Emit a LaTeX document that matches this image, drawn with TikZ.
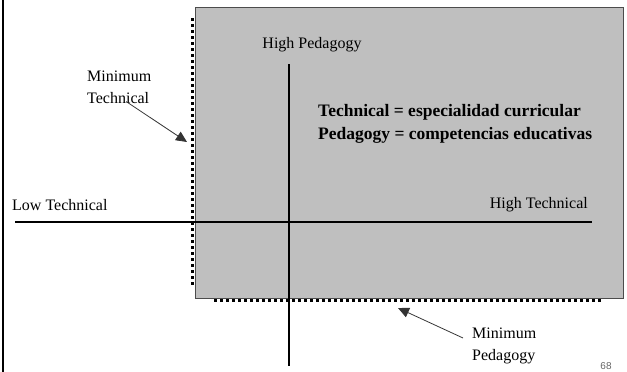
\documentclass[tikz,border=0pt]{standalone}
\usepackage{fontspec}
\setmainfont{Liberation Serif}
\setsansfont{Liberation Sans}
\usetikzlibrary{arrows.meta,positioning}

\tikzset{
	axis/.style={line width=2.6pt},
	minline/.style={line width=3pt,dash pattern=on 3pt off 3pt},
	lbl/.style={font=\fontsize{16}{22}\selectfont,inner sep=0pt},
	keytext/.style={font=\bfseries\fontsize{17.5}{23}\selectfont,inner sep=0pt,align=left},
	pointer/.style={line width=0.8pt,draw=black!80,-{Triangle[length=11pt,width=10pt]}}
}

\begin{document}
\begin{tikzpicture}[x=1pt,y=-1pt]
\useasboundingbox (0,0) rectangle (627,372);

\pgfmathsetmacro{\boxL}{195}
\pgfmathsetmacro{\boxR}{623}
\pgfmathsetmacro{\boxT}{7}
\pgfmathsetmacro{\boxB}{298}
\pgfmathsetmacro{\axX}{289}
\pgfmathsetmacro{\axY}{222}

\draw[line width=2pt] (3,0) -- (3,372);
\filldraw[fill=black!25,draw=black!70,line width=1pt] (\boxL,\boxT) rectangle (\boxR,\boxB);

\draw[minline] (192,18) -- (192,285);
\draw[minline] (214,300.5) -- (603,300.5);

\coordinate (west) at (15,\axY);
\coordinate (east) at (592,\axY);
\coordinate (north) at (\axX,64);
\coordinate (south) at (\axX,366);
\draw[axis] (west) -- (east);
\draw[axis] (north) -- (south);

\node[lbl] (highped) at (312,45) {High Pedagogy};
\node[lbl,anchor=west] (lowtech) at (12,205) {Low Technical};
\node[lbl,anchor=east] (hightech) at (588,205) {High Technical};
\node[lbl,align=left,anchor=west] (mintech) at (87,87) {Minimum\\Technical};
\node[lbl,align=left,anchor=west] (minped) at (472,346) {Minimum\\Pedagogy};
\node[keytext,anchor=west] (key) at (318,124) {Technical = especialidad curricular\\Pedagogy = competencias educativas};
\node[font=\sffamily\fontsize{10}{11}\selectfont,text=black!60] (pagenum) at (606,366) {68};

\coordinate (mintechtip) at (187,142);
\coordinate (minpedtip) at (398,308);
\draw[pointer] ([shift={(7,-2)}]mintech.south) -- (mintechtip);
\draw[pointer] ([shift={(-9,-8)}]minped.west) -- (minpedtip);
\end{tikzpicture}
\end{document}
